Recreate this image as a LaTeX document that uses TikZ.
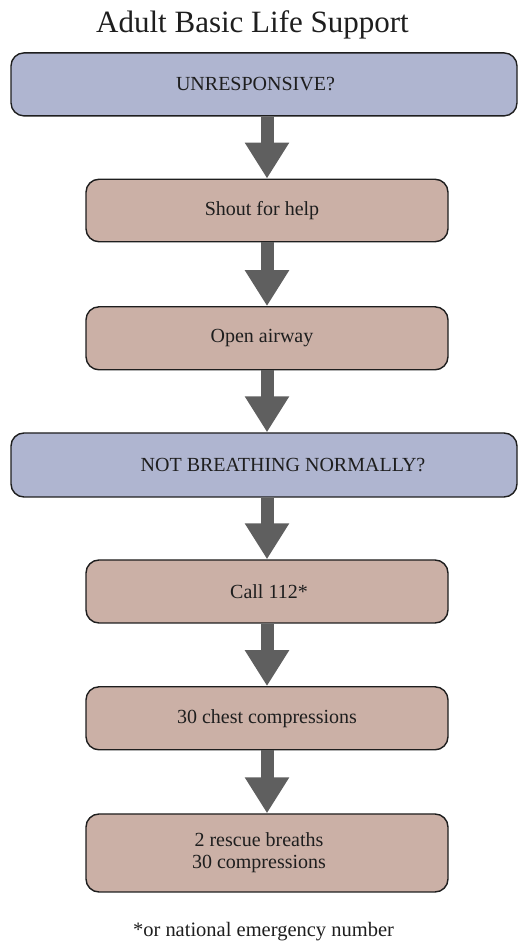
\documentclass[tikz,border=0pt]{standalone}
\usepackage{fontspec}
\setmainfont{Liberation Serif}
\usetikzlibrary{arrows.meta}
\definecolor{qblue}{HTML}{AFB5D0}
\definecolor{apink}{HTML}{CBB0A6}
\definecolor{arrgray}{HTML}{5F5F5F}
\definecolor{txt}{HTML}{1E1E1E}
\tikzset{
  boxbase/.style={draw=txt, line width=1.4pt, rounded corners=13pt, text=txt,
    font=\fontsize{20}{22}\selectfont, align=center, inner sep=0pt},
  qbox/.style={boxbase, fill=qblue, minimum width=506pt},
  abox/.style={boxbase, fill=apink, minimum width=362pt},
  flowarrow/.style={draw=arrgray, line width=13pt, -{Triangle[width=42pt,length=36pt]}}
}
\begin{document}
\begin{tikzpicture}[x=1pt,y=1pt]
\useasboundingbox (0,0) rectangle (518,943);
\node[anchor=base, text=txt, font=\fontsize{31}{34}\selectfont] (title) at (252.5,910) {Adult Basic Life Support};
\node[qbox, minimum height=63pt] (unresp) at (264,858.6) {\hspace*{-17pt}UNRESPONSIVE?};
\node[abox, minimum height=62.5pt] (shout) at (267,732.5) {\hspace*{-10pt}Shout for help};
\node[abox, minimum height=63pt] (airway) at (267,604.7) {\hspace*{-10pt}Open airway};
\node[qbox, minimum height=64pt] (notb) at (264,478) {\hspace*{38pt}NOT BREATHING NORMALLY?};
\node[abox, minimum height=63pt] (call) at (267,351.5) {\hspace*{4pt}Call 112*};
\node[abox, minimum height=63pt] (chest) at (267,224.7) {30 chest compressions};
\node[abox, minimum height=78pt] (rescue) at (267,90) {\hspace*{-16pt}2 rescue breaths\\\hspace*{-16pt}30 compressions};
\node[anchor=base, text=txt, font=\fontsize{20.5}{22}\selectfont] (note) at (263.5,6) {*or national emergency number};
\draw[flowarrow] (unresp.south -| shout.north) -- (shout.north);
\draw[flowarrow] (shout.south) -- (airway.north);
\draw[flowarrow] (airway.south) -- (airway.south |- notb.north);
\draw[flowarrow] (notb.south -| call.north) -- (call.north);
\draw[flowarrow] (call.south) -- (chest.north);
\draw[flowarrow] (chest.south) -- (rescue.north);
\end{tikzpicture}
\end{document}
